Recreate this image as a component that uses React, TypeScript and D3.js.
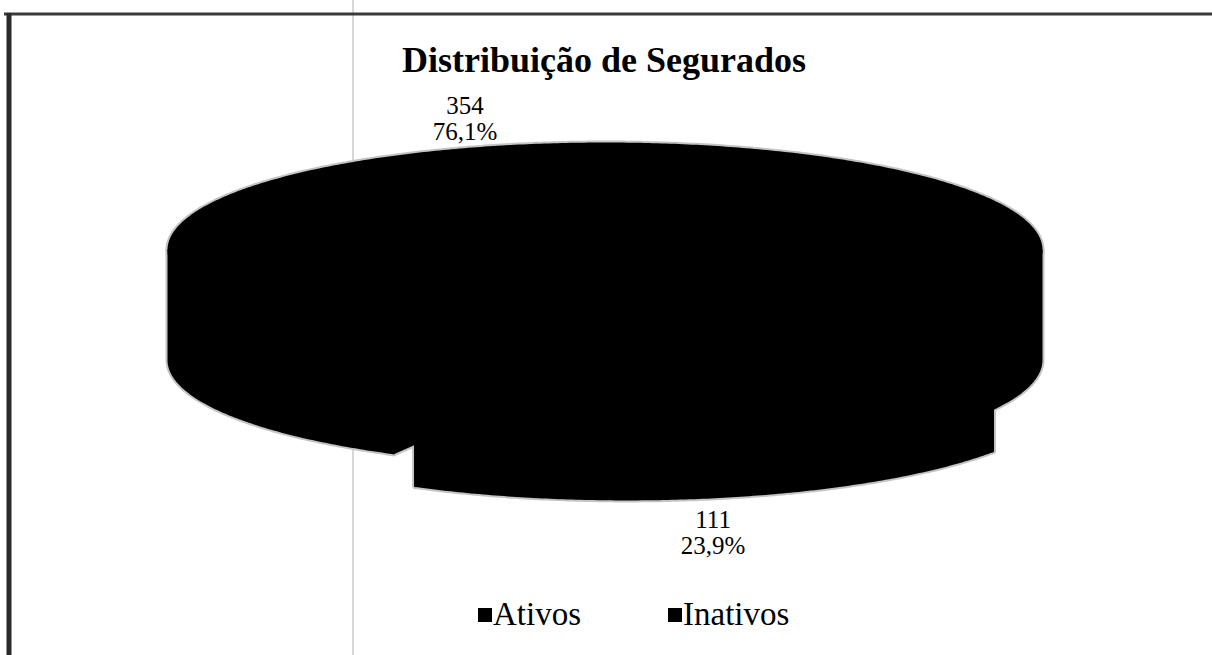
import React, { useEffect, useRef } from "react";
import * as d3 from "d3";

// chart data
const categories = ["Ativos", "Inativos"];
const values = [354, 111];
const sliceColors = ["#000000", "#000000"];
const exploded = [false, true];
const chartTitle = "Distribuição de Segurados";

const W = 1212;
const H = 655;

// 3D pie geometry
const cx = 605;
const cyTop = 250;
const rx = 436;
const ry = 106;
const depth = 110;
const startDeg = 209;
const explodeX = 0.21;
const explodeY = 0.32;
const labelK = 1.33;
const labelNudgeX = [0, -54];

const fmtPct = (v: number) => (v * 100).toFixed(1).replace(".", ",") + "%";

const App: React.FC = () => {
  const svgRef = useRef<SVGSVGElement>(null);

  useEffect(() => {
    if (!svgRef.current) return;
    const svg = d3.select(svgRef.current);
    svg.selectAll("*").remove();

    // scanned page frame
    svg.append("line")
      .attr("x1", 353).attr("x2", 353).attr("y1", 0).attr("y2", H)
      .attr("stroke", "#b0b0b0").attr("stroke-width", 1);
    svg.append("line")
      .attr("x1", 4).attr("x2", W).attr("y1", 14).attr("y2", 14)
      .attr("stroke", "#3a3a3a").attr("stroke-width", 3);
    svg.append("line")
      .attr("x1", 9).attr("x2", 9).attr("y1", 13).attr("y2", H)
      .attr("stroke", "#2a2a2a").attr("stroke-width", 5);

    // title
    svg.append("text")
      .attr("x", 604).attr("y", 72)
      .attr("text-anchor", "middle")
      .attr("font-family", "'Liberation Serif', 'Times New Roman', serif")
      .attr("font-weight", "bold")
      .attr("font-size", 36)
      .attr("fill", "#000")
      .text(chartTitle);

    const total = d3.sum(values);
    const start = (startDeg * Math.PI) / 180;
    const pie = d3.pie<number>().sort(null).startAngle(start).endAngle(start + 2 * Math.PI);
    const arcs = pie(values);

    const slices = arcs.map((a, i) => {
      const mid = (a.startAngle + a.endAngle) / 2;
      const ox = exploded[i] ? Math.sin(mid) * rx * explodeX : 0;
      const oy = exploded[i] ? -Math.cos(mid) * ry * explodeY : 0;
      return { a, i, mid, ox, oy };
    });

    const pt = (ang: number, ox: number, oy: number, y0: number): [number, number] => [
      cx + ox + rx * Math.sin(ang),
      y0 + oy - ry * Math.cos(ang),
    ];
    const sample = (a0: number, a1: number) => {
      const n = Math.max(2, Math.ceil(Math.abs(a1 - a0) / 0.01));
      return d3.range(n + 1).map(k => a0 + ((a1 - a0) * k) / n);
    };
    const line = d3.line();

    // build all face polygons
    const faces: { d: string; color: string }[] = [];
    // outer front walls
    slices.forEach(s => {
      for (let k = -1; k <= 2; k++) {
        const f0 = Math.PI / 2 + 2 * Math.PI * k;
        const f1 = (3 * Math.PI) / 2 + 2 * Math.PI * k;
        const a0 = Math.max(s.a.startAngle, f0);
        const a1 = Math.min(s.a.endAngle, f1);
        if (a1 <= a0) continue;
        const angs = sample(a0, a1);
        const topPts = angs.map(t => pt(t, s.ox, s.oy, cyTop));
        const botPts = angs.slice().reverse().map(t => pt(t, s.ox, s.oy, cyTop + depth));
        faces.push({ d: line([...topPts, ...botPts]) + "Z", color: sliceColors[s.i] });
      }
    });
    // radial cut faces
    slices.forEach(s => {
      [s.a.startAngle, s.a.endAngle].forEach(ang => {
        const c0: [number, number] = [cx + s.ox, cyTop + s.oy];
        const c1: [number, number] = [cx + s.ox, cyTop + s.oy + depth];
        const e0 = pt(ang, s.ox, s.oy, cyTop);
        const e1 = pt(ang, s.ox, s.oy, cyTop + depth);
        faces.push({ d: line([c0, e0, e1, c1]) + "Z", color: sliceColors[s.i] });
      });
    });
    // top faces
    slices.forEach(s => {
      const c0: [number, number] = [cx + s.ox, cyTop + s.oy];
      const pts = sample(s.a.startAngle, s.a.endAngle).map(t => pt(t, s.ox, s.oy, cyTop));
      faces.push({ d: line([c0, ...pts]) + "Z", color: sliceColors[s.i] });
    });

    // soft grey scan fuzz around the silhouette
    svg.append("g").selectAll("path")
      .data(faces)
      .enter().append("path")
      .attr("d", d => d.d)
      .attr("fill", "#b8b8b8")
      .attr("stroke", "#c4c4c4")
      .attr("stroke-width", 7)
      .attr("stroke-linejoin", "round");

    svg.append("g").selectAll("path")
      .data(faces)
      .enter().append("path")
      .attr("d", d => d.d)
      .attr("fill", d => d.color)
      .attr("stroke", d => d.color)
      .attr("stroke-width", 3)
      .attr("stroke-linejoin", "round");

    // data labels
    slices.forEach(s => {
      const front = Math.cos(s.mid) < 0;
      const lx = cx + s.ox + rx * labelK * Math.sin(s.mid) + labelNudgeX[s.i];
      const ly = cyTop + s.oy + (front ? depth : 0) - ry * labelK * Math.cos(s.mid);
      const t = svg.append("text")
        .attr("text-anchor", "middle")
        .attr("font-family", "'Liberation Serif', 'Times New Roman', serif")
        .attr("font-size", 25)
        .attr("fill", "#000");
      const dy = front ? -2 : 1;
      t.append("tspan").attr("x", lx).attr("y", ly + dy).text(String(values[s.i]));
      t.append("tspan").attr("x", lx).attr("y", ly + dy + 26).text(fmtPct(values[s.i] / total));
    });

    // legend
    const legend = svg.append("g").attr("transform", "translate(478,608)");
    categories.forEach((c, i) => {
      const item = legend.append("g").attr("transform", `translate(${i * 190},0)`);
      item.append("rect")
        .attr("width", 14).attr("height", 14)
        .attr("fill", sliceColors[i]);
      item.append("text")
        .attr("x", 15).attr("y", 17)
        .attr("font-family", "'Liberation Serif', 'Times New Roman', serif")
        .attr("font-size", 33)
        .attr("fill", "#000")
        .text(c);
    });
  }, []);

  return (
    <svg
      ref={svgRef}
      width={W}
      height={H}
      style={{ position: "absolute", left: 0, top: 0, background: "#fff" }}
    />
  );
};

export default App;
